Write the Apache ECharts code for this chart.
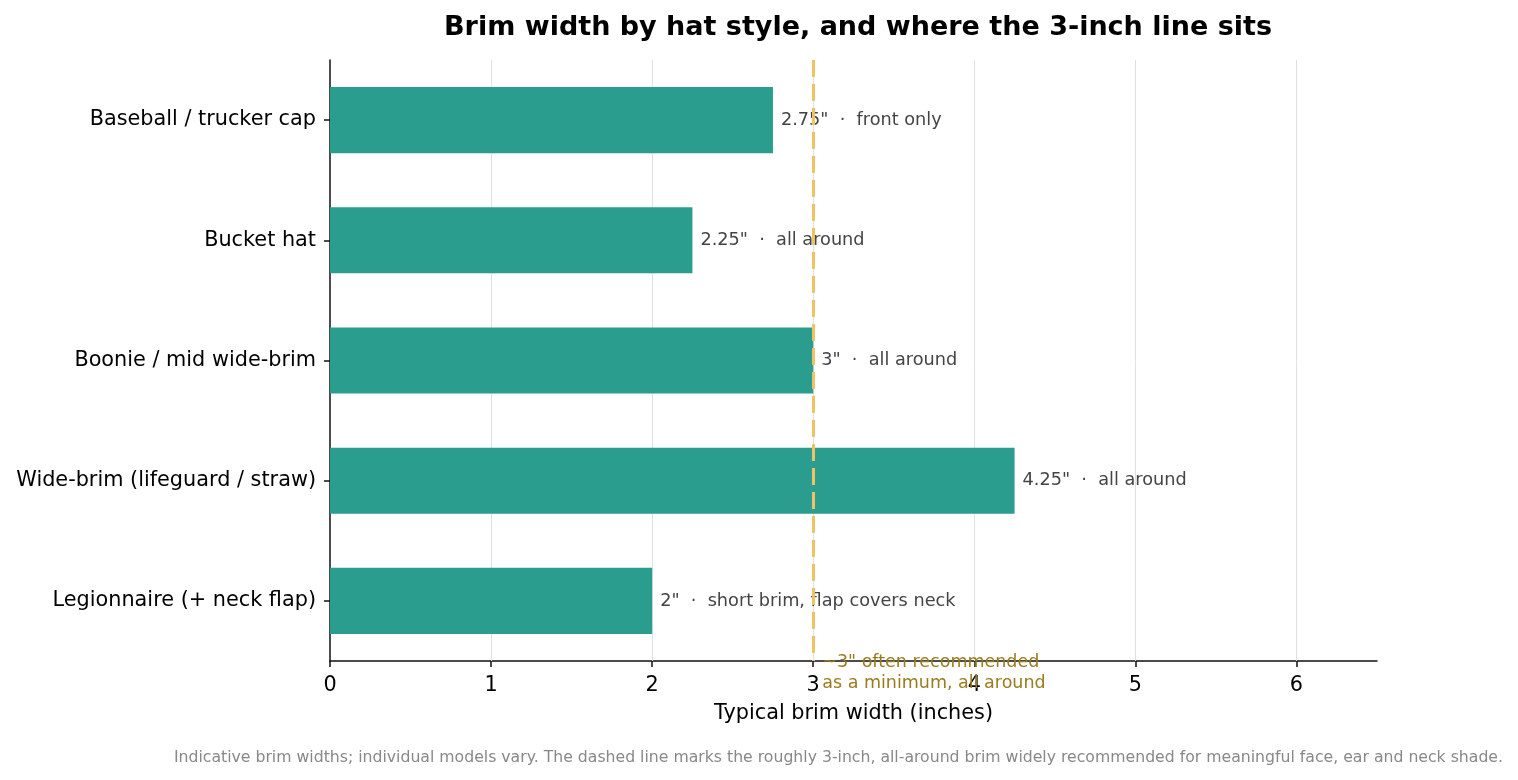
<!DOCTYPE html>
<html>
<head>
<meta charset="utf-8">
<script src="https://cdn.jsdelivr.net/npm/echarts@6/dist/echarts.min.js"></script>
<style>html,body{margin:0;padding:0;background:#fff}#c{width:1518px;height:780px}</style>
</head>
<body>
<div id="c"></div>
<script>
const categories = ['Baseball / trucker cap', 'Bucket hat', 'Boonie / mid wide-brim', 'Wide-brim (lifeguard / straw)', 'Legionnaire (+ neck flap)'];
const brimWidths = [2.75, 2.25, 3, 4.25, 2];
const notes = ['front only', 'all around', 'all around', 'all around', 'short brim, flap covers neck'];
const xTicks = [0, 1, 2, 3, 4, 5, 6];
const thresholdValue = 3;
const thresholdNote = ['~3" often recommended', 'as a minimum, all around'];
const titleText = 'Brim width by hat style, and where the 3-inch line sits';
const xAxisName = 'Typical brim width (inches)';
const footnote = 'Indicative brim widths; individual models vary. The dashed line marks the roughly 3-inch, all-around brim widely recommended for meaningful face, ear and neck shade.';

const FONT = "'DejaVu Sans', sans-serif";
const chart = echarts.init(document.getElementById('c'));
const option = {
  animation: false,
  textStyle: { fontFamily: FONT },
  title: {
    text: titleText, left: 853, top: 9, textAlign: 'center',
    textStyle: { fontFamily: FONT, fontSize: 27, fontWeight: 'bold', color: '#000' }
  },
  grid: { left: 330, right: 141, top: 60, bottom: 119, containLabel: false },
  xAxis: {
    type: 'value', min: 0, max: 6.5,
    name: xAxisName, nameLocation: 'middle', nameGap: 42,
    nameTextStyle: { fontFamily: FONT, fontSize: 20.8, color: '#000' },
    axisLine: { show: true, lineStyle: { color: '#111', width: 1.5 } },
    axisTick: { show: true, length: 6, customValues: xTicks, lineStyle: { color: '#111', width: 1.5 } },
    axisLabel: { fontFamily: FONT, fontSize: 20.8, color: '#000', margin: 14, customValues: xTicks },
    splitLine: { show: false }
  },
  yAxis: {
    type: 'category', data: categories, inverse: true,
    axisLine: { show: true, lineStyle: { color: '#111', width: 1.5 } },
    axisTick: { show: true, alignWithLabel: true, length: 6, lineStyle: { color: '#111', width: 1.5 } },
    axisLabel: { fontFamily: FONT, fontSize: 20.8, color: '#000', margin: 14 },
    splitLine: { show: false }
  },
  series: [{
    type: 'line', data: [], z: 1, silent: true, symbol: 'none',
    markLine: {
      silent: true, symbol: 'none', z: 1,
      lineStyle: { color: '#e0e0e0', width: 1, type: 'solid' },
      label: { show: false },
      data: xTicks.filter(v => v > 0).map(v => ({ xAxis: v }))
    }
  }, {
    type: 'bar',
    data: brimWidths,
    barCategoryGap: '45%',
    z: 3,
    itemStyle: { color: '#2a9d8f' },
    label: {
      show: true, position: 'right', distance: 8,
      fontFamily: FONT, fontSize: 17.7, color: '#444',
      formatter: p => p.value + '"  \u00b7  ' + notes[p.dataIndex]
    },
    markLine: {
      silent: true, symbol: 'none', z: 10,
      lineStyle: { color: '#eec265', width: 3, type: [17, 7] },
      label: { show: false },
      data: [{ xAxis: thresholdValue }]
    }
  }]
};
chart.setOption(option);
const px = chart.convertToPixel({ xAxisIndex: 0 }, thresholdValue);
chart.setOption({
  graphic: [{
    type: 'text', right: 15, bottom: 14,
    style: { text: footnote, fontFamily: FONT, fontSize: 15.7, fill: '#888' }
  }, {
    type: 'text', x: px + 9, y: 652, z: 20,
    style: { text: thresholdNote.join('\n'), fontFamily: FONT, fontSize: 17.5, lineHeight: 21,
      fill: '#9a7b1e', align: 'left', verticalAlign: 'top' }
  }]
});
</script>
</body>
</html>
